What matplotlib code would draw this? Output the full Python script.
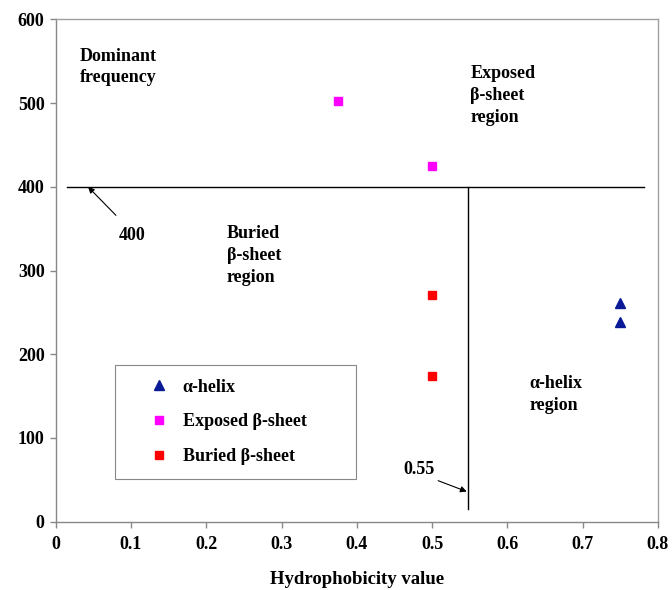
import matplotlib
matplotlib.use("Agg")
import matplotlib.pyplot as plt

# data
helix_x = [0.75, 0.75]
helix_y = [261, 238]
exposed_x = [0.375, 0.5]
exposed_y = [502, 425]
buried_x = [0.5, 0.5]
buried_y = [271, 174]

freq_cut = 400
hydro_cut = 0.548

plt.rcParams['font.family'] = ['Liberation Serif', 'DejaVu Serif']
plt.rcParams['font.weight'] = 'bold'
plt.rcParams['font.size'] = 13

fig = plt.figure(figsize=(6.72, 5.90), dpi=100)
ax = fig.add_axes([0.0829, 0.1158, 0.979 - 0.0829, 0.967 - 0.1158])

ax.plot(helix_x, helix_y, ls='none', marker='^', ms=6.5, color='#0a1a96', label='\u03b1-helix')
ax.plot(exposed_x, exposed_y, ls='none', marker='s', ms=5.8, color='#ff00ff', label='Exposed \u03b2-sheet')
ax.plot(buried_x, buried_y, ls='none', marker='s', ms=5.8, color='#ff0000', label='Buried \u03b2-sheet')

# region boundaries
ax.plot([0.015, 0.782], [freq_cut, freq_cut], color='black', lw=1.0)
ax.plot([hydro_cut, hydro_cut], [15, freq_cut], color='black', lw=1.0)

ax.set_xlim(0, 0.8)
ax.set_ylim(0, 600)
ax.set_xticks([0, 0.1, 0.2, 0.3, 0.4, 0.5, 0.6, 0.7, 0.8])
ax.set_xticklabels(['0', '0.1', '0.2', '0.3', '0.4', '0.5', '0.6', '0.7', '0.8'])
ax.set_yticks([0, 100, 200, 300, 400, 500, 600])
for s in ax.spines.values():
    s.set_color('#a0a0a0')
    s.set_linewidth(1.0)
ax.spines['left'].set_color('#888888')
ax.spines['bottom'].set_color('#888888')
ax.tick_params(direction='out', length=4, width=1, color='#888888', pad=4, labelsize=13)
ax.tick_params(axis='x', pad=6)
ax.set_xlabel('Hydrophobicity value', fontsize=13.5, fontweight='bold', labelpad=13)

# annotations
arrow = dict(arrowstyle='-|>', color='black', lw=0.8, mutation_scale=9, shrinkA=0, shrinkB=0)
ax.text(0.101, 342, '400', ha='center', va='center')
ax.annotate('', xy=(0.043, 400), xytext=(0.080, 366), arrowprops=arrow)
ax.text(0.482, 62, '0.55', ha='center', va='center')
ax.annotate('', xy=(0.546, 36), xytext=(0.508, 49), arrowprops=arrow)

ax.text(0.032, 566, 'Dominant\nfrequency', ha='left', va='top', linespacing=1.33)
ax.text(0.551, 546, 'Exposed\n\u03b2-sheet\nregion', ha='left', va='top', linespacing=1.38)
ax.text(0.227, 354, 'Buried\n\u03b2-sheet\nregion', ha='left', va='top', linespacing=1.38)
ax.text(0.629, 175, '\u03b1-helix\nregion', ha='left', va='top', linespacing=1.38)

leg = ax.legend(loc='upper left', bbox_to_anchor=(0.079, 52, 0.32, 135),
                bbox_transform=ax.transData, mode='expand', borderaxespad=0,
                fancybox=False, edgecolor='#888888', framealpha=1, fontsize=13,
                handlelength=3.4, handletextpad=-0.42, borderpad=0.75, labelspacing=0.98)
leg.get_frame().set_linewidth(0.8)

fig.savefig('out.png', dpi=100)
